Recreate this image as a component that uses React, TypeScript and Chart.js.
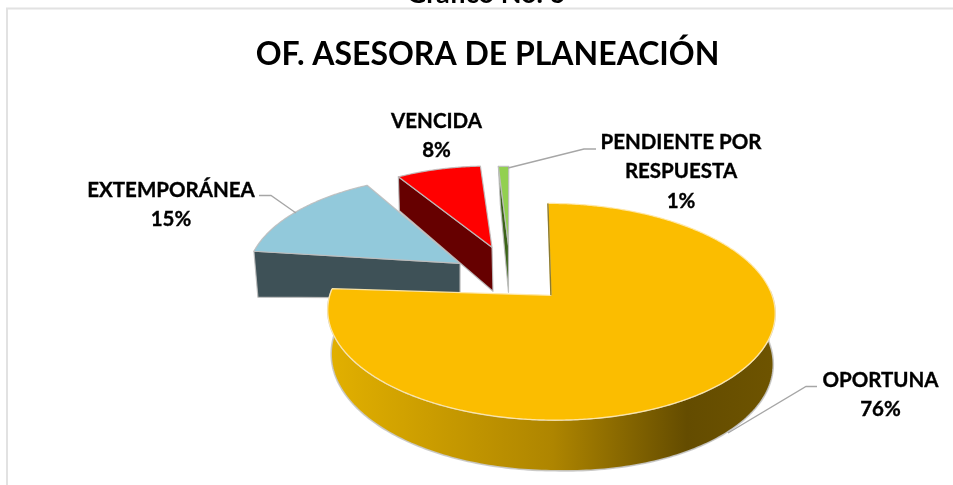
import React, { useEffect, useRef } from "react";
import { Chart, registerables } from "chart.js";

Chart.register(...registerables);

const sliceNames = ["OPORTUNA", "EXTEMPORÁNEA", "VENCIDA", "PENDIENTE POR RESPUESTA"];
const sliceValues = [76, 15, 8, 1];
const labelLines = [["OPORTUNA"], ["EXTEMPORÁNEA"], ["VENCIDA"], ["PENDIENTE POR", "RESPUESTA"]];
const topColors = ["#FBBD00", "#92C9DB", "#FF0000", "#92D050"];
const sideColors = ["#6E5400", "#3E5157", "#660000", "#3B6318"];
const chartTitle = "OF. ASESORA DE PLANEACIÓN";
const pageHeading = "Gráfico No. 6";

const FONT = "Lato, Carlito, sans-serif";
const REF_X = 487.5;
const REF_Y = 283.1;
const REF_R = 201.9;

// Perspective look of the disc
const RX = 221.4;
const RY = 106;
const SKEW = 3.5;
const PERSP = -0.152;

// Exploded placement of each slice: apex, scale, rotation and extrusion
const sliceLook = [
  { ax: 551, ay: 295, s: 1, rot: 0, rimDx: 0, rimDy: 0, apexDx: 0, apexDy: 43 },
  { ax: 460, ay: 263, s: 0.955, rot: 3.4, rimDx: 4, rimDy: 46, apexDx: 0, apexDy: 35 },
  { ax: 492, ay: 247, s: 0.885, rot: 0.6, rimDx: 1, rimDy: 34, apexDx: 1, apexDy: 44 },
  { ax: 508.5, ay: 245, s: 0.86, rot: 1, rimDx: 2, rimDy: 38, apexDx: 0, apexDy: 47 },
];

const labelLook = [
  { x: 880.5, y: 380, leader: [[817, 386.5], [806, 386.5], [728, 433]] },
  { x: 171, y: 190, leader: [[259, 195.5], [271, 195.5], [296, 213]] },
  { x: 436.5, y: 121, leader: [] as number[][] },
  { x: 681, y: 142, leader: [[596, 149], [584, 149], [508, 168]] },
];

const pie3d = {
  id: "pie3d",
  beforeDraw(chart: any) {
    const { ctx } = chart;
    ctx.save();
    ctx.fillStyle = "#fff";
    ctx.fillRect(0, 0, chart.width, chart.height);
    ctx.strokeStyle = "#E2E2E2";
    ctx.lineWidth = 2;
    ctx.beginPath();
    ctx.moveTo(7, chart.height);
    ctx.lineTo(7, 8.5);
    ctx.lineTo(chart.width, 8.5);
    ctx.stroke();
    ctx.fillStyle = "#000";
    ctx.font = `bold 27px ${FONT}`;
    ctx.textAlign = "center";
    ctx.textBaseline = "alphabetic";
    ctx.fillText(pageHeading, 486, 3);
    ctx.restore();
  },
  beforeDatasetDraw(chart: any) {
    const { ctx } = chart;
    const arcs = chart.getDatasetMeta(0).data;
    const first = arcs[0];
    const g = first.outerRadius / REF_R;
    const sx = (x: number) => first.x + (x - REF_X) * g;
    const sy = (y: number) => first.y + (y - REF_Y) * g;

    const rimPoint = (i: number, deg: number) => {
      const look = sliceLook[i];
      const t = ((deg + look.rot) * Math.PI) / 180;
      const u = Math.sin(t);
      const v = -Math.cos(t);
      const w = 1 + PERSP * v;
      return {
        x: look.ax + (look.s * (RX * u + SKEW * v)) / w,
        y: look.ay + (look.s * RY * v) / w,
        w,
        u,
      };
    };

    const degOf = (rad: number) => ((rad + Math.PI / 2) * 180) / Math.PI;

    const poly = (pts: number[][], fill: any, stroke?: string, lw = 1.2) => {
      ctx.beginPath();
      pts.forEach((p, k) => (k ? ctx.lineTo(sx(p[0]), sy(p[1])) : ctx.moveTo(sx(p[0]), sy(p[1]))));
      ctx.closePath();
      ctx.fillStyle = fill;
      ctx.fill();
      if (stroke) {
        ctx.strokeStyle = stroke;
        ctx.lineWidth = lw;
        ctx.lineJoin = "round";
        ctx.stroke();
      }
    };

    const edge = "rgba(190,190,190,0.9)";
    ctx.save();

    // Exploded slices first: back to front, the large slice covers their feet
    [1, 2, 3].forEach((i) => {
      const arc = arcs[i];
      const look = sliceLook[i];
      const a = degOf(arc.startAngle);
      const b = degOf(arc.endAngle);
      const start = rimPoint(i, a);
      poly(
        [
          [start.x, start.y],
          [look.ax, look.ay],
          [look.ax + look.apexDx, look.ay + look.apexDy],
          [start.x + look.rimDx, start.y + look.rimDy],
        ],
        sideColors[i],
        edge,
      );
      const pts: number[][] = [[look.ax, look.ay]];
      for (let d = a; d < b; d += 0.5) {
        const p = rimPoint(i, d);
        pts.push([p.x, p.y]);
      }
      const end = rimPoint(i, b);
      pts.push([end.x, end.y]);
      poly(pts, arc.options.backgroundColor, edge);
    });

    // Large slice: outer wall, then cut face sliver, then top
    const arc0 = arcs[0];
    const look0 = sliceLook[0];
    const a0 = degOf(arc0.startAngle);
    const b0 = degOf(arc0.endAngle);
    const wall: number[][] = [];
    const wallBottom: number[][] = [];
    for (let d = 88; d <= b0; d += 1) {
      const p = rimPoint(0, d);
      wall.push([p.x, p.y]);
      const lean = Math.max(0, p.u);
      wallBottom.unshift([
        look0.ax + 3 + (p.x - look0.ax - 3) * 0.985 + 1.5 * lean,
        p.y + look0.apexDy / p.w + 7 * lean,
      ]);
    }
    const grad = ctx.createLinearGradient(sx(329), 0, sx(777), 0);
    grad.addColorStop(0, "#E2B000");
    grad.addColorStop(0.5, "#AE8500");
    grad.addColorStop(0.8, "#644C00");
    grad.addColorStop(1, sideColors[0]);
    poly([...wall, ...wallBottom], grad, "rgba(200,200,200,0.9)", 1.6);

    const pts0: number[][] = [[look0.ax, look0.ay]];
    for (let d = a0; d < b0; d += 0.5) {
      const p = rimPoint(0, d);
      pts0.push([p.x, p.y]);
    }
    const end0 = rimPoint(0, b0);
    pts0.push([end0.x, end0.y]);
    poly(pts0, arc0.options.backgroundColor, "rgba(255,232,170,0.95)", 1.2);

    const s0 = rimPoint(0, a0);
    ctx.beginPath();
    ctx.moveTo(sx(s0.x), sy(s0.y));
    ctx.lineTo(sx(look0.ax), sy(look0.ay));
    ctx.strokeStyle = "#8A7A30";
    ctx.lineWidth = 1.4;
    ctx.stroke();

    ctx.restore();
    return false;
  },
  afterDraw(chart: any) {
    const { ctx } = chart;
    const total = sliceValues.reduce((a, b) => a + b, 0);
    ctx.save();
    labelLook.forEach((look, i) => {
      if (look.leader.length) {
        ctx.beginPath();
        look.leader.forEach((p, k) => (k ? ctx.lineTo(p[0], p[1]) : ctx.moveTo(p[0], p[1])));
        ctx.strokeStyle = "#A6A6A6";
        ctx.lineWidth = 1.3;
        ctx.stroke();
      }
      const lines = [...labelLines[i], `${Math.round((sliceValues[i] / total) * 100)}%`];
      ctx.fillStyle = "#000";
      ctx.strokeStyle = "#000";
      ctx.lineWidth = 0.35;
      ctx.font = `bold 20.5px ${FONT}`;
      ctx.textAlign = "center";
      ctx.textBaseline = "middle";
      lines.forEach((t, k) => {
        ctx.fillText(t, look.x, look.y + k * 29.6);
        ctx.strokeText(t, look.x, look.y + k * 29.6);
      });
    });
    ctx.restore();
  },
};

export default function App() {
  const ref = useRef<HTMLCanvasElement | null>(null);
  useEffect(() => {
    if (!ref.current) return;
    const chart = new Chart(ref.current, {
      type: "pie",
      data: {
        labels: sliceNames,
        datasets: [{ data: sliceValues, backgroundColor: topColors, borderWidth: 0 }],
      },
      options: {
        responsive: false,
        animation: false,
        layout: { padding: { left: 22, right: 0, top: 0, bottom: 0 } },
        plugins: {
          legend: { display: false },
          tooltip: { enabled: false },
          title: {
            display: true,
            text: chartTitle,
            color: "#000",
            font: { family: FONT, size: 32, weight: "bold" },
            padding: { top: 35.4, bottom: 8 },
          },
        },
      },
      plugins: [pie3d],
    } as any);
    return () => chart.destroy();
  }, []);
  return (
    <div style={{ position: "fixed", left: 0, top: 0, width: 953, height: 485, background: "#fff" }}>
      <canvas ref={ref} width={953} height={485} style={{ display: "block" }} />
    </div>
  );
}
